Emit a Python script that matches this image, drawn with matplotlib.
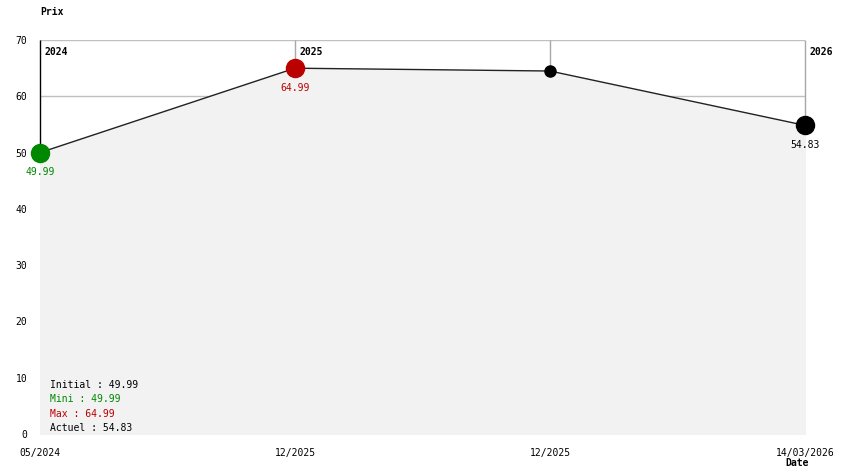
import matplotlib
matplotlib.use("Agg")
import matplotlib.pyplot as plt

# price history
dates = ["05/2024", "12/2025", "12/2025", "14/03/2026"]
prices = [49.99, 64.99, 64.49, 54.83]
years = {0: "2024", 1: "2025", 3: "2026"}
stats = [("Initial : 49.99", "black"), ("Mini : 49.99", "#008800"),
         ("Max : 64.99", "#bb0000"), ("Actuel : 54.83", "black")]

plt.rcParams['font.family'] = ['DejaVu Sans Mono']
plt.rcParams['font.size'] = 7

fig = plt.figure(figsize=(8.44, 4.74), dpi=100)
ax = fig.add_axes([40/844, 40/474, 765/844, 394/474])

x = list(range(len(prices)))
ax.set_xlim(0, len(prices) - 1)
ax.set_ylim(0, 70)

# grid
for v in range(10, 71, 10):
    ax.axhline(v, color="#c0c0c0", lw=1, zorder=0)
# vertical lines only above the curve (below is covered by the fill)
ax.vlines(x[1:], prices[1:], 70, color="#a8a8a8", lw=1, zorder=0, clip_on=False)
ax.vlines(x[0], prices[0], 70, color="black", lw=1, zorder=0, clip_on=False)

ax.fill_between(x, prices, 0, facecolor="#f2f2f2", edgecolor="#f2f2f2",
                lw=1, zorder=1)
ax.plot(x, prices, color="#222222", lw=1, zorder=2)

imin = prices.index(min(prices))
imax = prices.index(max(prices))
for i, p in enumerate(prices):
    if i == imin:
        c, s = "#008800", 13
    elif i == imax:
        c, s = "#bb0000", 13
    elif i == len(prices) - 1:
        c, s = "black", 13
    else:
        c, s = "black", 8
    ax.plot(i, p, "o", color=c, ms=s, zorder=3, clip_on=False)
    if s > 10:
        ax.annotate("%.2f" % p, (i, p), xytext=(0, -10.5), textcoords="offset points",
                    ha="center", va="top", color=c)

for i, y in years.items():
    ax.annotate(y, (i, 70), xytext=(3, -5), textcoords="offset points",
                ha="left", va="top", fontweight="bold")

for k, (t, c) in enumerate(stats):
    fig.text(50/844, 1 - (385 + k*14.3)/474, t, color=c, va="center", ha="left")

ax.set_xticks(x)
ax.set_xticklabels(dates)
ax.set_yticks(range(0, 71, 10))
ax.tick_params(axis="x", length=0, pad=10)
ax.tick_params(axis="y", length=0, pad=9)
for sp in ax.spines.values():
    sp.set_visible(False)

fig.text(40/844, 1 - 12/474, "Prix", fontweight="bold", ha="left", va="center")
fig.text(797/844, 1 - 463/474, "Date", fontweight="bold", ha="center", va="center")

fig.savefig("out.png", dpi=100)
